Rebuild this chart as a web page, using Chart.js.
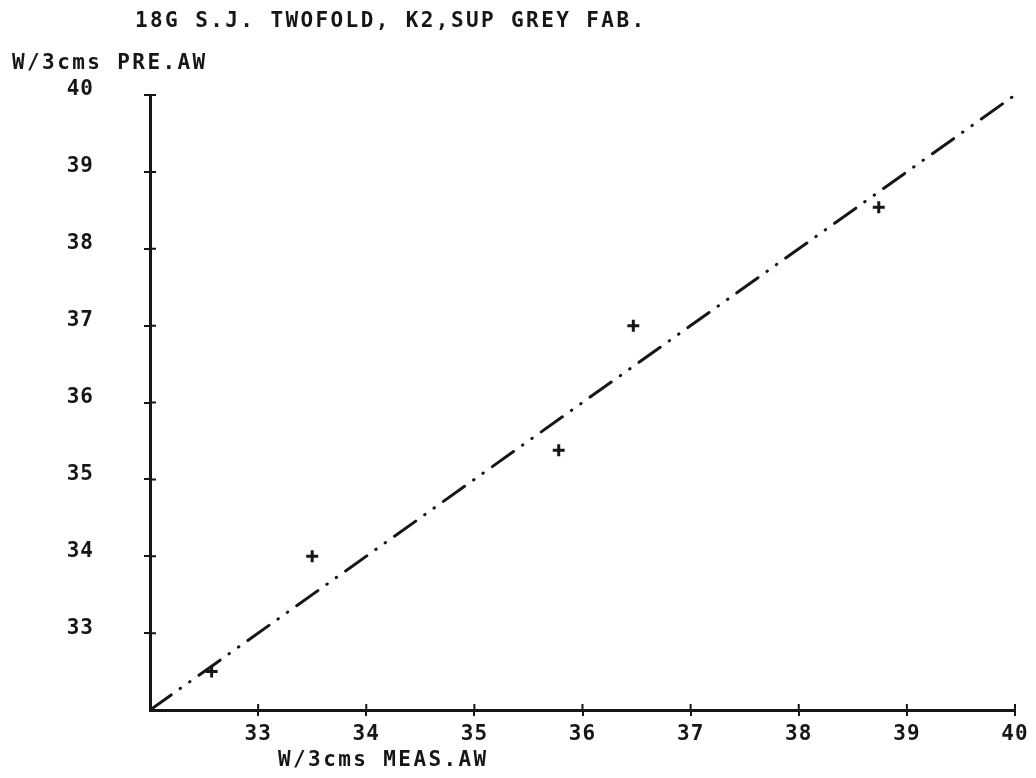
<!DOCTYPE html>
<html>
<head>
<meta charset="utf-8">
<script src="https://cdn.jsdelivr.net/npm/chart.js@4"></script>
<style>
  body { margin: 0; background: #fff; }
  canvas { display: block; }
</style>
</head>
<body>
<canvas id="myChart" width="1036" height="778"></canvas>
<script>
const measAW = [32.57, 33.5, 35.78, 36.47, 38.74];
const preAW = [32.5, 34.0, 35.38, 37.0, 38.54];
const fitX = [32, 40];
const fitY = [32, 40];
const titleText = '18G S.J. TWOFOLD, K2,SUP GREY FAB.';
const yTitleText = 'W/3cms PRE.AW';
const xTitleText = 'W/3cms MEAS.AW';

const ink = '#161616';
const monoFont = '"DejaVu Sans Mono", "Liberation Mono", monospace';

// plotter style: ticks cross the axis, titles are plain text
const plotterPlugin = {
  id: 'plotter',
  beforeDraw(chart) {
    chart.ctx.letterSpacing = '1px';
  },
  afterDraw(chart) {
    const ctx = chart.ctx;
    const x = chart.scales.x;
    const y = chart.scales.y;
    ctx.save();
    ctx.strokeStyle = ink;
    ctx.lineWidth = 2;
    ctx.beginPath();
    x.ticks.forEach(t => {
      if (t.value === 32) return;
      const px = x.getPixelForValue(t.value);
      ctx.moveTo(px, y.bottom);
      ctx.lineTo(px, y.bottom - 6);
    });
    y.ticks.forEach(t => {
      if (t.value === 32) return;
      const py = y.getPixelForValue(t.value);
      ctx.moveTo(x.left, py);
      ctx.lineTo(x.left + 6, py);
    });
    ctx.stroke();

    ctx.fillStyle = ink;
    ctx.letterSpacing = '2.4px';
    ctx.font = 'bold 21px ' + monoFont;
    ctx.textBaseline = 'middle';
    ctx.textAlign = 'left';
    ctx.fillText(titleText, 135, 22);
    ctx.fillText(yTitleText, 12, 64);
    ctx.fillText(xTitleText, 278, 761);
    ctx.restore();
  }
};

new Chart('myChart', {
  type: 'scatter',
  data: {
    datasets: [{
      label: 'measured',
      data: measAW.map((v, i) => ({ x: v, y: preAW[i] })),
      pointStyle: 'cross',
      pointRadius: 6,
      pointBorderWidth: 3,
      borderColor: ink,
      backgroundColor: ink
    }, {
      label: 'y = x',
      data: fitX.map((v, i) => ({ x: v, y: fitY[i] })),
      showLine: true,
      pointRadius: 0,
      borderColor: ink,
      borderWidth: 3,
      borderCapStyle: 'round',
      borderDash: [26, 11, 0.5, 11, 0.5, 11],
      borderDashOffset: 0
    }]
  },
  plugins: [plotterPlugin],
  options: {
    responsive: false,
    devicePixelRatio: 1,
    animation: false,
    layout: {
      padding: { left: 0, top: 95, right: 21, bottom: 0 }
    },
    plugins: {
      legend: { display: false },
      tooltip: { enabled: false }
    },
    scales: {
      x: {
        type: 'linear',
        min: 32,
        max: 40,
        afterFit: function (scale) { scale.height = 68; },
        border: { display: true, color: ink, width: 3 },
        grid: {
          drawOnChartArea: false,
          drawTicks: true,
          tickLength: 6,
          lineWidth: 2,
          color: ctx => (ctx.tick && ctx.tick.value === 32) ? 'rgba(0,0,0,0)' : ink
        },
        ticks: {
          stepSize: 1,
          color: ink,
          padding: 6,
          maxRotation: 0,
          font: { family: monoFont, size: 21, weight: 'bold' },
          callback: function (value) {
            return value === 32 ? '' : value;
          }
        }
      },
      y: {
        type: 'linear',
        min: 32,
        max: 40,
        afterFit: function (scale) { scale.width = 150; },
        border: { display: true, color: ink, width: 3 },
        grid: {
          drawOnChartArea: false,
          drawTicks: true,
          tickLength: 6,
          lineWidth: 2,
          color: ctx => (ctx.tick && ctx.tick.value === 32) ? 'rgba(0,0,0,0)' : ink
        },
        ticks: {
          stepSize: 1,
          color: ink,
          padding: 50,
          labelOffset: -5,
          font: { family: monoFont, size: 21, weight: 'bold' },
          callback: function (value) {
            return value === 32 ? '' : value;
          }
        }
      }
    }
  }
});
</script>
</body>
</html>
